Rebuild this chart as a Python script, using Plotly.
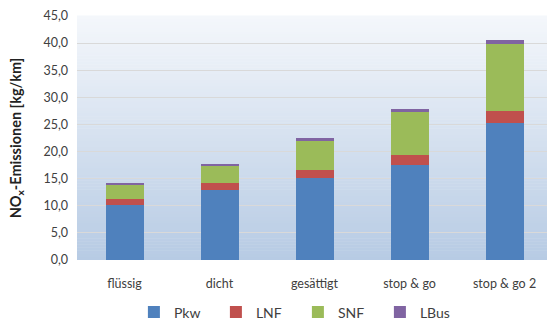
import plotly.graph_objects as go

# Traffic states and NOx emissions per vehicle class [kg/km]
categories = ["flüssig", "dicht", "gesättigt", "stop & go", "stop & go 2"]
pkw = [10.2, 12.9, 15.1, 17.6, 25.3]
lnf = [1.1, 1.3, 1.5, 1.8, 2.1]
snf = [2.6, 3.1, 5.4, 7.9, 12.4]
lbus = [0.3, 0.4, 0.5, 0.5, 0.8]

series = [
    ("Pkw", pkw, "#4f81bd"),
    ("LNF", lnf, "#c0504d"),
    ("SNF", snf, "#9bbb59"),
    ("LBus", lbus, "#8064a2"),
]

FONT = "Lato, 'Open Sans', sans-serif"
TXT = "#404040"

fig = go.Figure()
for name, vals, col in series:
    fig.add_trace(go.Bar(
        name=name, x=categories, y=vals,
        marker=dict(color=col, line=dict(width=0)),
        width=0.4,
    ))

# vertical gradient behind the plot area (light at top, pale blue at bottom)
top_rgb = (244, 247, 251)
bot_rgb = (183, 203, 228)
n = 80
shapes = []
for i in range(n):
    t = i / (n - 1)
    r = round(bot_rgb[0] + (top_rgb[0] - bot_rgb[0]) * t)
    g = round(bot_rgb[1] + (top_rgb[1] - bot_rgb[1]) * t)
    b = round(bot_rgb[2] + (top_rgb[2] - bot_rgb[2]) * t)
    shapes.append(dict(
        type="rect", xref="paper", yref="paper",
        x0=0, x1=1, y0=i / n, y1=(i + 1) / n + 0.002,
        fillcolor=f"rgb({r},{g},{b})", line=dict(width=0), layer="below",
    ))

fig.update_layout(
    width=547, height=329,
    margin=dict(l=77, r=0, t=16, b=62),
    barmode="stack",
    separators=",.",
    paper_bgcolor="white",
    plot_bgcolor="rgba(0,0,0,0)",
    font=dict(family=FONT, color=TXT, size=12),
    shapes=shapes,
    showlegend=True,
    legend=dict(
        orientation="h", x=0.47, xanchor="center", y=-0.215, yanchor="middle",
        font=dict(size=14, color=TXT), traceorder="normal",
        itemwidth=30, tracegroupgap=0, entrywidth=37,
    ),
    xaxis=dict(
        range=[-0.5, 4.447], showgrid=False, zeroline=False, showline=False,
        tickfont=dict(size=12.5, color=TXT), ticks="", ticklabelstandoff=14,
    ),
    yaxis=dict(
        range=[0, 45], dtick=5, tickformat=".1f",
        showgrid=True, gridcolor="#d9d9d9", gridwidth=1,
        zeroline=False, showline=False, ticks="",
        tickfont=dict(size=12.5, color=TXT), ticklabelstandoff=8,
        title=dict(
            text="<b>NO<sub>x</sub>-Emissionen [kg/km]</b>",
            font=dict(size=14.5, color="#222222"), standoff=18,
        ),
    ),
)

fig.write_html("out.html")
